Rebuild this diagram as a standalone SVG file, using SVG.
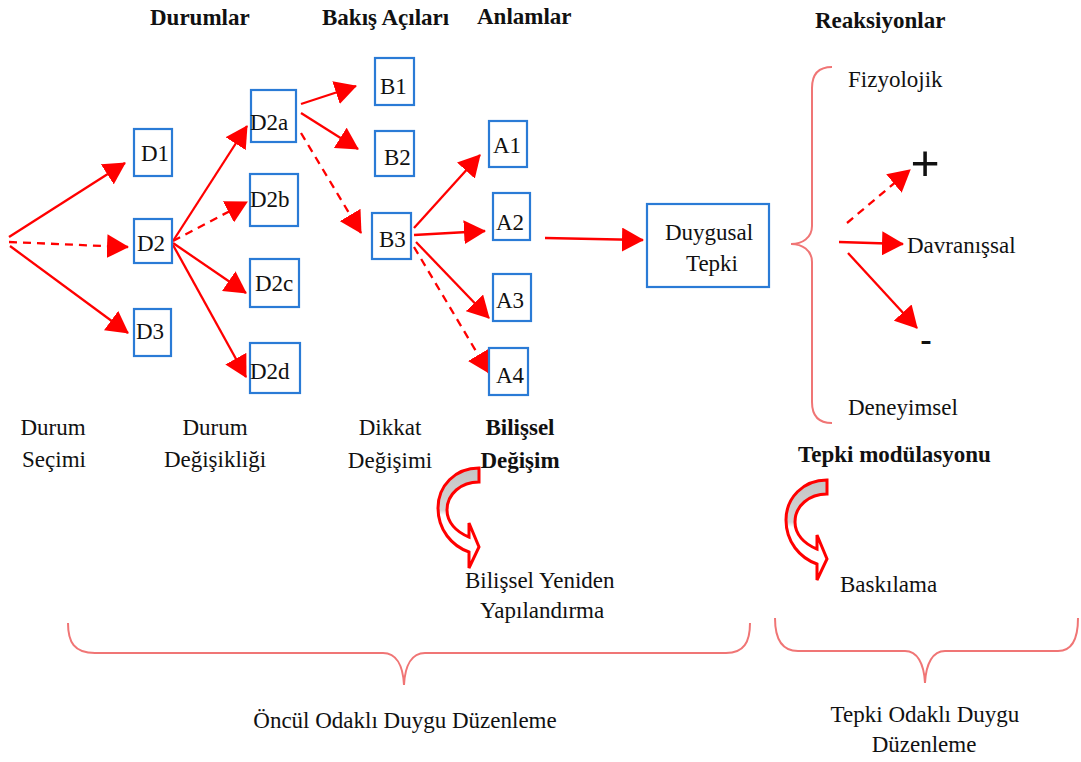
<svg xmlns="http://www.w3.org/2000/svg" width="1081" height="762" viewBox="0 0 1081 762">
<style>
text{font-family:"Liberation Serif","Times New Roman",serif;font-size:23px;fill:#111}
.b{font-weight:bold}
.m{text-anchor:middle}
.box{fill:#fff;stroke:#2a7bd6;stroke-width:2.2}
.ln{stroke:#ff0000;stroke-width:2.3;fill:none;marker-end:url(#ah)}
.d{stroke-dasharray:8 6}
.br{stroke:#f07575;stroke-width:2;fill:none}
.ca{fill:url(#cg);stroke:#ff0000;stroke-width:3;stroke-linejoin:miter}
</style>
<defs>
<marker id="ah" markerUnits="userSpaceOnUse" markerWidth="22" markerHeight="24" viewBox="0 0 22 24" refX="21" refY="12" orient="auto">
<path d="M0,0 L22,12 L0,24 Z" fill="#ff0000"/>
</marker>
<linearGradient id="cg" x1="0" y1="0" x2="0" y2="1">
<stop offset="0" stop-color="#c4c4c4"/>
<stop offset="0.42" stop-color="#d4d4d4"/>
<stop offset="0.47" stop-color="#ffffff"/>
<stop offset="1" stop-color="#ffffff"/>
</linearGradient>
</defs>

<g id="headers">
<text class="b" x="150" y="25">Durumlar</text>
<text class="b" x="322" y="25">Bakış Açıları</text>
<text class="b" x="477" y="24">Anlamlar</text>
<text class="b" x="815" y="28">Reaksiyonlar</text>
</g>

<g id="connectors">
<path class="ln" d="M9,237 L125,163"/>
<path class="ln d" d="M9,242 L128,247"/>
<path class="ln" d="M10,246 L128,333"/>
<path class="ln" d="M173,241 L247,126"/>
<path class="ln d" d="M173,241 L247,202"/>
<path class="ln" d="M173,243 L246,293"/>
<path class="ln" d="M173,245 L246,377"/>
<path class="ln" d="M301,104 L356,86"/>
<path class="ln" d="M301,113 L358,149"/>
<path class="ln d" d="M301,133 L361,233"/>
<path class="ln" d="M414,228 L480,155"/>
<path class="ln" d="M414,235 L485,231"/>
<path class="ln" d="M416,242 L489,318"/>
<path class="ln d" d="M414,247 L489,373"/>
<path class="ln" d="M545,238 L643,240"/>
<path class="ln d" d="M847,223 L910,170"/>
<path class="ln" d="M839,242 L903,244"/>
<path class="ln" d="M848,253 L917,328"/>
</g>

<g id="D1"><rect class="box" x="134" y="129" width="38" height="47"/><text x="141" y="161">D1</text></g>
<g id="D2"><rect class="box" x="134" y="219" width="38" height="44"/><text x="137" y="251">D2</text></g>
<g id="D3"><rect class="box" x="134" y="309" width="37" height="47"/><text x="136" y="339">D3</text></g>
<g id="D2a"><rect class="box" x="251" y="90" width="45" height="52"/><text x="250" y="130">D2a</text></g>
<g id="D2b"><rect class="box" x="250" y="174" width="48" height="52"/><text x="250" y="207">D2b</text></g>
<g id="D2c"><rect class="box" x="250" y="259" width="49" height="48"/><text x="255" y="291">D2c</text></g>
<g id="D2d"><rect class="box" x="250" y="343" width="50" height="50"/><text x="250" y="379">D2d</text></g>
<g id="B1"><rect class="box" x="375" y="58" width="39" height="47"/><text x="380" y="94">B1</text></g>
<g id="B2"><rect class="box" x="375" y="131" width="39" height="45"/><text x="384" y="165">B2</text></g>
<g id="B3"><rect class="box" x="372" y="213" width="39" height="46"/><text x="379" y="247">B3</text></g>
<g id="A1"><rect class="box" x="489" y="121" width="38" height="46"/><text x="493" y="153">A1</text></g>
<g id="A2"><rect class="box" x="493" y="193" width="37" height="47"/><text x="496" y="230">A2</text></g>
<g id="A3"><rect class="box" x="493" y="274" width="38" height="47"/><text x="496" y="308">A3</text></g>
<g id="A4"><rect class="box" x="489" y="348" width="39" height="47"/><text x="496" y="383">A4</text></g>
<g id="duygusal"><rect class="box" x="647" y="204" width="122" height="83"/><text class="m" x="709" y="240">Duygusal</text><text class="m" x="712" y="271">Tepki</text></g>

<g id="reaksiyonlar">
<path class="br" d="M832,67 C818,67 812,74 812,88 L812,226 C812,238 802,244 791,244 C802,244 812,250 812,262 L812,402 C812,416 818,423 832,423"/>
<text x="848" y="87">Fizyolojik</text>
<text x="925" y="180" class="m" style="font-family:'Liberation Sans',Arial,sans-serif;font-size:50px">+</text>
<text x="907" y="253">Davranışsal</text>
<text x="926" y="352" class="m" style="font-family:'Liberation Sans',Arial,sans-serif;font-size:36px">-</text>
<text x="848" y="415">Deneyimsel</text>
</g>

<g id="labels">
<text class="m" x="53" y="435">Durum</text>
<text class="m" x="54" y="467">Seçimi</text>
<text class="m" x="215" y="435">Durum</text>
<text class="m" x="215" y="467">Değişikliği</text>
<text class="m" x="390" y="435">Dikkat</text>
<text class="m" x="390" y="468">Değişimi</text>
<text class="b m" x="520" y="435">Bilişsel</text>
<text class="b m" x="520" y="468">Değişim</text>
<text class="b" x="798" y="462">Tepki modülasyonu</text>
</g>

<g id="curved-arrow-1">
<path class="ca" d="M479,468 C455,468 438,486 438,508 C438,530 452,546 469,552 L469,568 L479,547 L469,523 L469,537 C456,532 447,522 447,510 C447,494 461,482 479,482 Z"/>
<text x="465" y="588">Bilişsel Yeniden</text>
<text x="480" y="618">Yapılandırma</text>
</g>

<g id="curved-arrow-2">
<path class="ca" d="M827,480 C803,480 786,498 786,520 C786,542 800,558 817,564 L817,580 L827,559 L817,535 L817,549 C804,544 795,534 795,522 C795,506 809,494 827,494 Z"/>
<text x="840" y="592">Baskılama</text>
</g>

<g id="braces">
<path class="br" d="M68,623 C68,642 74,653 95,653 L383,653 C396,653 403,665 404,685 C405,665 412,653 425,653 L726,653 C744,653 750,642 750,623"/>
<path class="br" d="M775,618 C775,640 782,651 798,651 L905,651 C917,651 924,663 925,683 C926,663 933,651 945,651 L1058,651 C1072,651 1078,640 1078,618"/>
<text class="m" x="405" y="728">Öncül Odaklı Duygu Düzenleme</text>
<text class="m" x="925" y="722">Tepki Odaklı Duygu</text>
<text class="m" x="924" y="752">Düzenleme</text>
</g>
</svg>
